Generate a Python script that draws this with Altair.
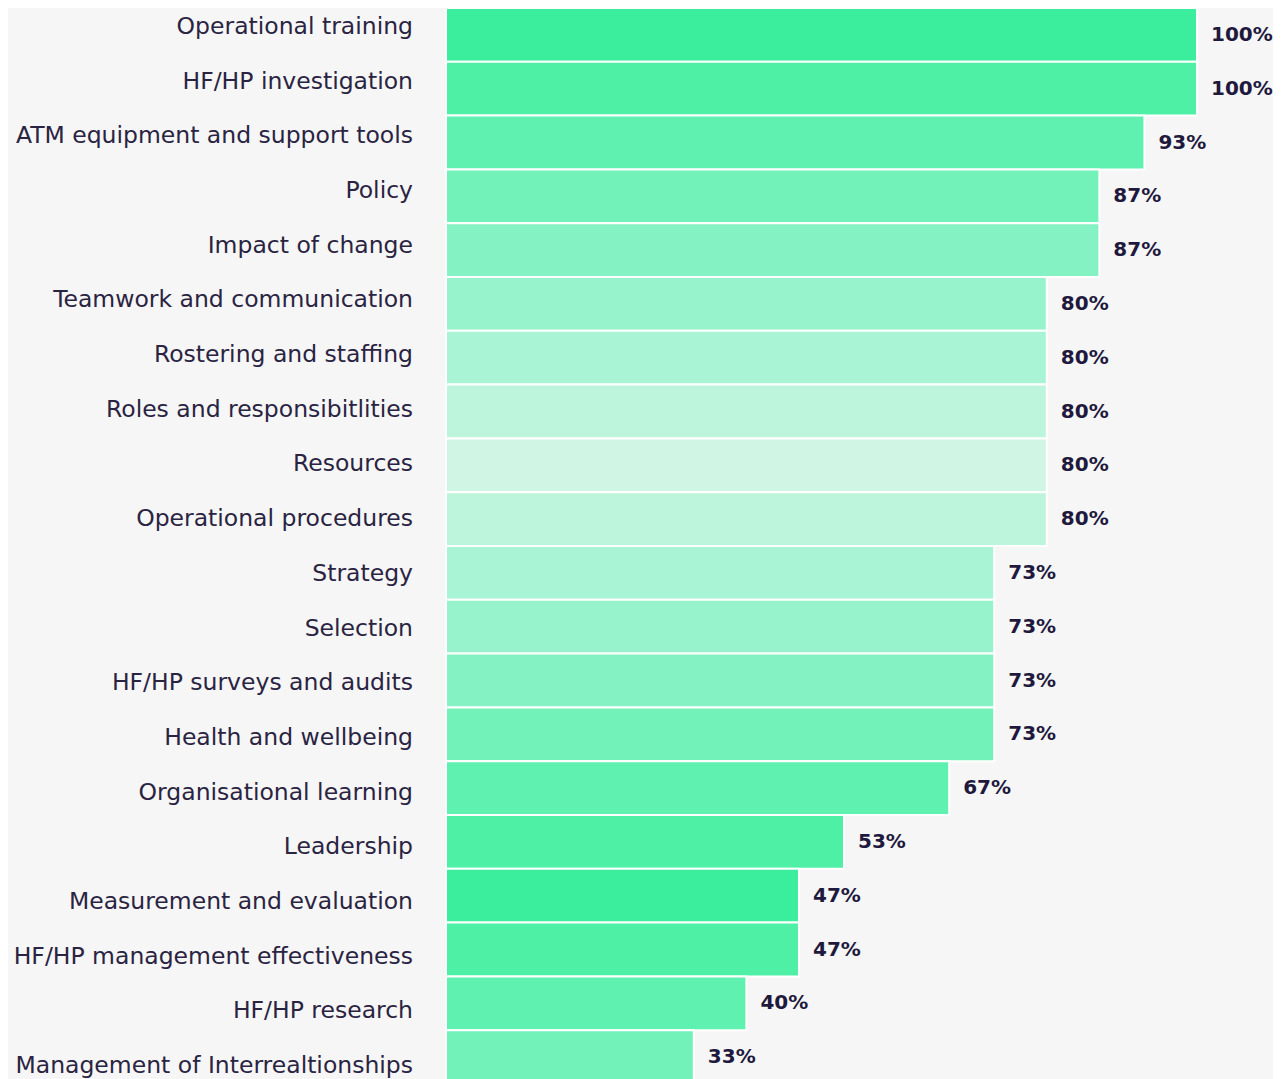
import altair as alt
import pandas as pd

categories = [
    "Operational training", "HF/HP investigation", "ATM equipment and support tools",
    "Policy", "Impact of change", "Teamwork and communication", "Rostering and staffing",
    "Roles and responsibitlities", "Resources", "Operational procedures", "Strategy",
    "Selection", "HF/HP surveys and audits", "Health and wellbeing",
    "Organisational learning", "Leadership", "Measurement and evaluation",
    "HF/HP management effectiveness", "HF/HP research", "Management of Interrealtionships",
]
values = [100, 100, 93, 87, 87, 80, 80, 80, 80, 80, 73, 73, 73, 73, 67, 53, 47, 47, 40, 33]
colors = [
    "#3BEE9D", "#4EF0A6", "#5FF1B0", "#72F2B9", "#84F2C2", "#97F3CB", "#A9F4D4",
    "#BDF4DC", "#D0F5E5", "#BDF4DC", "#A9F4D4", "#97F3CB", "#84F2C2", "#72F2B9",
    "#5FF1B0", "#4EF0A6", "#3BEE9D", "#4EF0A6", "#5FF1B0", "#72F2B9",
]

df = pd.DataFrame({"cat": categories, "val": values})
df["label"] = df["val"].astype(str) + "%"

y = alt.Y("cat:N", sort=categories, title=None,
          scale=alt.Scale(paddingInner=0, paddingOuter=0), axis=None)
x = alt.X("val:Q", title=None, scale=alt.Scale(domain=[0, 100]), axis=None)

bars = alt.Chart(df).mark_bar(stroke="white", strokeWidth=2).encode(
    y=y, x=x,
    color=alt.Color("cat:N", scale=alt.Scale(domain=categories, range=colors), legend=None),
)
text = alt.Chart(df).mark_text(align="left", dx=14, fontSize=20, fontWeight="bold",
                               font="DejaVu Sans", color="#1f1a3d").encode(
    y=y, x=x, text="label:N"
)
cat_labels = alt.Chart(df).mark_text(align="right", baseline="middle", fontSize=23.5,
                                     font="DejaVu Sans", color="#2a2442").encode(
    y=alt.Y("cat:N", sort=categories, axis=None,
            scale=alt.Scale(type="point", padding=0, range=[19, 1058])),
    x=alt.value(-33),
    text="cat:N",
)

chart = alt.layer(alt.layer(bars, text), cat_labels).resolve_scale(y="independent").properties(
    width=751, height=1076, background="#f6f6f6",
    view=alt.ViewBackground(stroke="transparent", strokeWidth=0),
    autosize=alt.AutoSizeParams(type="none"),
    padding={"left": 438, "top": 0, "right": 76, "bottom": 0},
).configure_view(strokeWidth=0, stroke="transparent")

chart.save("out.html", embed_options={"renderer": "svg", "actions": False})
